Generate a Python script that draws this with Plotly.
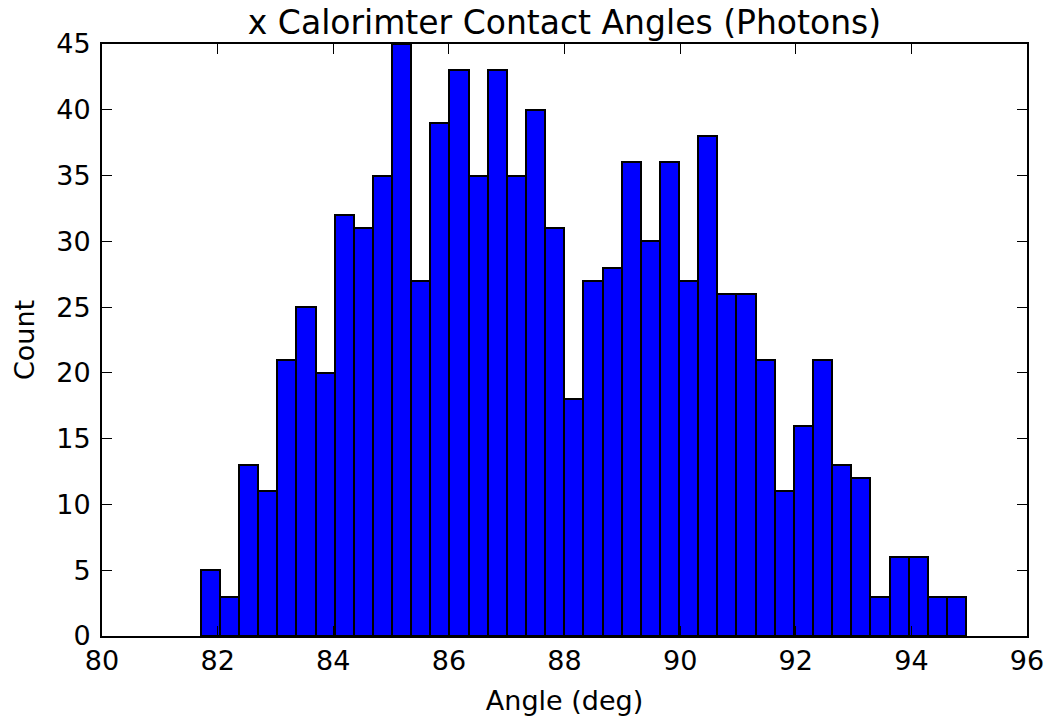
"""
Histogram of x calorimeter contact angles for photons.
"""

import plotly.graph_objects as go

# bin layout
bin_start = 81.707
bin_width = 0.331

counts = [
    5, 3, 13, 11, 21, 25, 20, 32, 31, 35,
    45, 27, 39, 43, 35, 43, 35, 40, 31, 18,
    27, 28, 36, 30, 36, 27, 38, 26, 26, 21,
    11, 16, 21, 13, 12, 3, 6, 6, 3, 3,
]

x_ticks = [80, 82, 84, 86, 88, 90, 92, 94, 96]
y_ticks = [0, 5, 10, 15, 20, 25, 30, 35, 40, 45]

centers = [bin_start + bin_width * (i + 0.5) for i in range(len(counts))]

FONT = "DejaVu Sans"
W, H = 1056, 723

fig = go.Figure(go.Bar(
    x=centers,
    y=counts,
    width=bin_width,
    marker=dict(color="#0000ff", line=dict(color="#000000", width=2)),
    showlegend=False,
))

axis_common = dict(
    showgrid=False,
    zeroline=False,
    showline=True,
    linecolor="#000000",
    linewidth=2,
    mirror="ticks",
    ticks="inside",
    ticklen=10,
    tickwidth=1,
    tickcolor="#000000",
    ticklabeloverflow="allow",
    tickfont=dict(family=FONT, size=27, color="#000000"),
)

fig.update_layout(
    width=W,
    height=H,
    margin=dict(l=102, r=24, t=44, b=82),
    plot_bgcolor="#ffffff",
    paper_bgcolor="#ffffff",
    bargap=0,
    title=dict(
        text="x Calorimter Contact Angles (Photons)",
        x=0.5, xanchor="center",
        xref="paper",
        yref="container",
        y=1 - 22 / H, yanchor="middle",
        font=dict(family=FONT, size=33, color="#000000"),
    ),
    xaxis=dict(
        range=[80, 96],
        tickvals=x_ticks,
        title=dict(text="Angle (deg)", standoff=16,
                   font=dict(family=FONT, size=27, color="#000000")),
        **axis_common,
    ),
    yaxis=dict(
        range=[0, 45],
        tickvals=y_ticks,
        ticklabelstandoff=4,
        title=dict(text="Count", standoff=14,
                   font=dict(family=FONT, size=27, color="#000000")),
        **axis_common,
    ),
)

# drop the default body margin so the figure fills the window exactly
fig.write_html(
    "out.html",
    config={"displayModeBar": False},
    post_script="document.body.style.margin='0';document.body.style.overflow='hidden';",
)
